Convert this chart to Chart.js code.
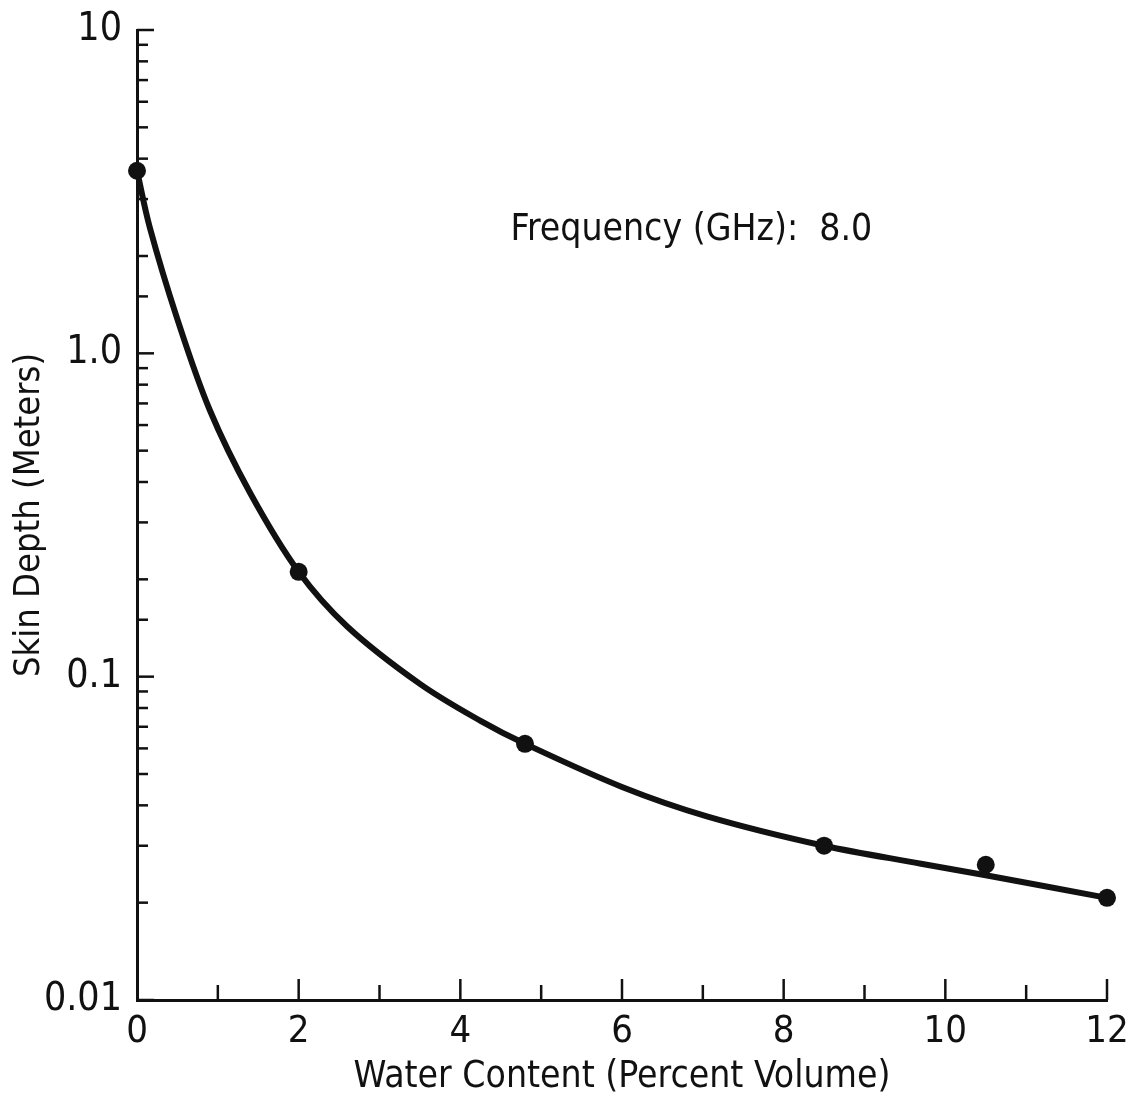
<!DOCTYPE html>
<html>
<head>
<meta charset="utf-8">
<script src="https://cdn.jsdelivr.net/npm/chart.js@4.4.1/dist/chart.umd.min.js"></script>
<style>
  html, body { margin: 0; padding: 0; background: #fff; }
  #grafico { display: block; }
</style>
</head>
<body>
<canvas id="grafico" width="1129" height="1102"></canvas>
<script>
// --- DADOS ---
const waterPts = [0, 2, 4.8, 8.5, 10.5, 12];
const depthPts = [3.67, 0.211, 0.062, 0.030, 0.0262, 0.0207];

// curva ajustada
const curveX = [0, 0.16, 0.495, 0.9, 1.4, 2.0, 2.6, 3.5, 4.25, 4.8, 6.0, 7.05, 8.5, 9.7, 10.5, 12];
const curveY = [3.67, 2.44, 1.285, 0.668, 0.370, 0.211, 0.143, 0.095, 0.073, 0.062, 0.0456, 0.037, 0.030, 0.0264, 0.0243, 0.0207];

const xTickLabels = [0, 2, 4, 6, 8, 10, 12];
const yTickValues = [0.01, 0.1, 1, 10];
const yTickText = ['0.01', '0.1', '1.0', '10'];

const FONTE = "'Liberation Sans Narrow', 'DejaVu Sans Condensed', 'Roboto', sans-serif";
const TINTA = '#111';

function ehPotencia(v) {
    const l = Math.log10(v);
    return Math.abs(l - Math.round(l)) < 1e-6;
}

// ticks desenhados para dentro, como no original
const ticksInternos = {
    id: 'ticksInternos',
    afterDatasetsDraw(chart) {
        const ctx = chart.ctx;
        const { left, bottom } = chart.chartArea;
        const xs = chart.scales.x, ys = chart.scales.y;
        ctx.save();
        ctx.strokeStyle = TINTA;
        ctx.lineWidth = 2.5;
        ys.ticks.forEach(t => {
            const py = ys.getPixelForValue(t.value);
            const len = ehPotencia(t.value) ? 17 : 11;
            ctx.beginPath(); ctx.moveTo(left, py); ctx.lineTo(left + len, py); ctx.stroke();
        });
        xs.ticks.forEach(t => {
            if (t.value === 0) return;
            const px = xs.getPixelForValue(t.value);
            const len = xTickLabels.includes(t.value) ? 21 : 15;
            ctx.beginPath(); ctx.moveTo(px, bottom); ctx.lineTo(px, bottom - len); ctx.stroke();
        });

        // rótulo da frequência
        ctx.fillStyle = TINTA;
        ctx.font = `37px ${FONTE}`;
        ctx.textBaseline = 'middle';
        ctx.textAlign = 'left';
        ctx.fillText('Frequency (GHz):  8.0', xs.getPixelForValue(4.62), ys.getPixelForValue(2.4));
        ctx.restore();
    }
};

const ctx = document.getElementById('grafico').getContext('2d');
new Chart(ctx, {
    type: 'scatter',
    data: {
        datasets: [
            {
                label: 'curva',
                data: curveX.map((x, i) => ({ x, y: curveY[i] })),
                showLine: true,
                borderColor: TINTA,
                borderWidth: 6,
                pointRadius: 0,
                tension: 0.35,
                clip: false
            },
            {
                label: 'medidas',
                data: waterPts.map((x, i) => ({ x, y: depthPts[i] })),
                showLine: false,
                pointRadius: 9,
                backgroundColor: TINTA,
                borderColor: TINTA,
                borderWidth: 0,
                clip: false
            }
        ]
    },
    options: {
        responsive: false,
        animation: false,
        devicePixelRatio: 1,
        layout: { padding: { left: 0, top: 30, right: 22, bottom: 0 } },
        plugins: { legend: { display: false }, tooltip: { enabled: false } },
        scales: {
            x: {
                type: 'linear',
                min: 0,
                max: 12,
                afterFit: s => { s.height = 102; s.paddingLeft = 0; s.paddingRight = 0; },
                grid: { display: false, drawTicks: false },
                border: { display: true, color: TINTA, width: 3 },
                ticks: {
                    stepSize: 1,
                    autoSkip: false,
                    maxRotation: 0,
                    padding: 9,
                    color: TINTA,
                    font: { family: FONTE, size: 38 },
                    callback: v => xTickLabels.includes(v) ? String(v) : ''
                },
                title: {
                    display: true,
                    text: 'Water Content (Percent Volume)',
                    color: TINTA,
                    font: { family: FONTE, size: 37 },
                    padding: { top: 0, bottom: 2 }
                }
            },
            y: {
                type: 'logarithmic',
                min: 0.01,
                max: 10,
                afterFit: s => { s.width = 137; s.paddingTop = 0; s.paddingBottom = 0; },
                grid: { display: false, drawTicks: false },
                border: { display: true, color: TINTA, width: 3 },
                ticks: {
                    autoSkip: false,
                    padding: 15,
                    color: TINTA,
                    font: { family: FONTE, size: 39 },
                    callback: v => {
                        const k = yTickValues.findIndex(t => Math.abs(Math.log10(t) - Math.log10(v)) < 1e-6);
                        return k >= 0 ? yTickText[k] : '';
                    }
                },
                title: {
                    display: true,
                    text: 'Skin Depth (Meters)',
                    color: TINTA,
                    font: { family: FONTE, size: 36 },
                    padding: { top: 8, bottom: 0 }
                }
            }
        }
    },
    plugins: [ticksInternos]
});
</script>
</body>
</html>
